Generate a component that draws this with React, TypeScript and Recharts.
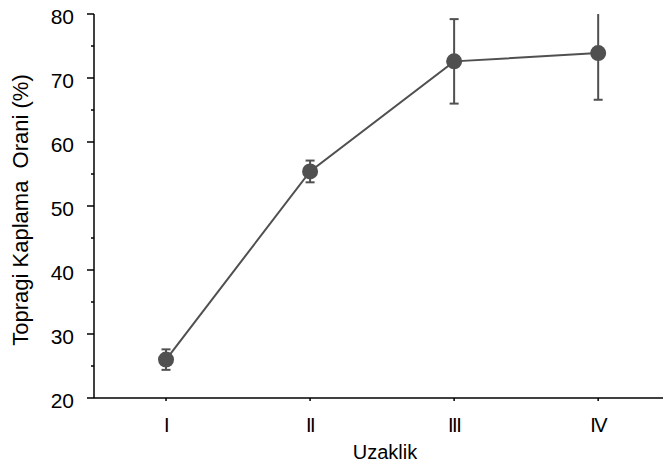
import React from 'react';
import { LineChart, Line, XAxis, YAxis, ErrorBar } from 'recharts';

const categories = ['I', 'II', 'III', 'IV'];
const coverMean = [26.0, 55.4, 72.6, 73.9];
const coverError = [1.6, 1.7, 6.6, 7.3];
const majorTicks = [20, 30, 40, 50, 60, 70, 80];
const minorTicks = [25, 35, 45, 55, 65, 75];
const xPositions = [1, 2, 3, 4];

const data = categories.map((name, i) => ({
  pos: xPositions[i],
  name,
  mean: coverMean[i],
  err: coverError[i],
}));

const FONT = '"Liberation Sans", Arial, sans-serif';
const GREY = '#505050';

const YTick = (props: any) => {
  const { x, y, payload } = props;
  const major = majorTicks.includes(payload.value);
  return (
    <g>
      <line x1={x - (major ? 7 : 3)} y1={y} x2={x} y2={y} stroke="#000" strokeWidth={1.5} />
      {major && (
        <text x={x - 20} y={y + 10} textAnchor="end" fontSize={21} fontFamily={FONT} fill="#000">
          {payload.value}
        </text>
      )}
    </g>
  );
};

const XTick = (props: any) => {
  const { x, y, payload } = props;
  return (
    <g>
      <line x1={x} y1={y} x2={x} y2={y + 3} stroke="#000" strokeWidth={1.5} />
      <text
        x={x}
        y={y + 34}
        textAnchor="middle"
        fontSize={20}
        letterSpacing={-1.5}
        fontFamily={FONT}
        fill="#000"
      >
        {categories[payload.value - 1]}
      </text>
    </g>
  );
};

const YLabel = () => (
  <text
    x={28}
    y={210}
    transform="rotate(-90, 28, 210)"
    textAnchor="middle"
    fontSize={22}
    fontFamily={FONT}
    fill="#000"
  >
    {'Topragi Kaplama\u00a0 Orani (%)'}
  </text>
);

const XLabel = () => (
  <text x={385} y={459} textAnchor="middle" fontSize={20} fontFamily={FONT} fill="#000">
    Uzaklik
  </text>
);

export default function App() {
  return (
    <div style={{ position: 'absolute', left: 0, top: 0, width: 663, height: 466, background: '#fff' }}>
      <style>{'.recharts-errorBars { clip-path: url(#plot-clip); }'}</style>
      <svg width={0} height={0} style={{ position: 'absolute' }}>
        <defs>
          <clipPath id="plot-clip" clipPathUnits="userSpaceOnUse">
            <rect x={94} y={14} width={569} height={384} />
          </clipPath>
        </defs>
      </svg>
      <LineChart width={663} height={466} data={data} margin={{ top: 14, right: 0, bottom: 0, left: 0 }}>
        <XAxis
          dataKey="pos"
          type="number"
          domain={[0.5, 4.45]}
          ticks={xPositions}
          allowDataOverflow
          height={68}
          tickSize={0}
          tickMargin={0}
          tickLine={false}
          tick={<XTick />}
          axisLine={{ stroke: '#000', strokeWidth: 1.5 }}
          label={<XLabel />}
          interval={0}
        />
        <YAxis
          type="number"
          domain={[20, 80]}
          ticks={[...majorTicks, ...minorTicks].sort((a, b) => a - b)}
          allowDataOverflow
          width={94}
          tickSize={0}
          tickMargin={0}
          tickLine={false}
          tick={<YTick />}
          axisLine={{ stroke: '#000', strokeWidth: 1.5 }}
          label={<YLabel />}
          interval={0}
        />
        <Line
          dataKey="mean"
          stroke={GREY}
          strokeWidth={2}
          dot={{ r: 8, fill: GREY, stroke: 'none' }}
          activeDot={false}
          isAnimationActive={false}
        >
          <ErrorBar dataKey="err" direction="y" width={4.5} stroke={GREY} strokeWidth={2} isAnimationActive={false} />
        </Line>
      </LineChart>
    </div>
  );
}
